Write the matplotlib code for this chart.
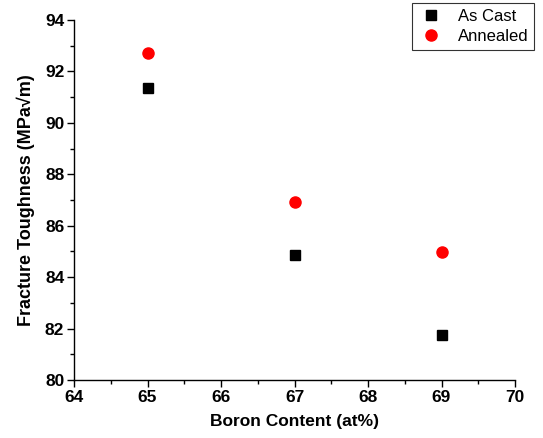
import matplotlib
matplotlib.use('Agg')
import matplotlib.pyplot as plt

# data
boron = [65, 67, 69]
as_cast = [91.35, 84.88, 81.75]
annealed = [92.7, 86.92, 84.97]

plt.rcParams['font.family'] = ['Liberation Sans', 'DejaVu Sans']

fig = plt.figure(figsize=(5.43, 4.38), dpi=100)
ax = fig.add_axes([74/543, 1 - 380/438, (515 - 74)/543, (380 - 20)/438])

ax.plot(boron, as_cast, 's', color='black', markersize=7, label='As Cast')
ax.plot(boron, annealed, 'o', color='red', markersize=8, label='Annealed')

ax.set_xlim(64, 70)
ax.set_ylim(80, 94)
ax.set_xticks(range(64, 71))
ax.set_yticks(range(80, 95, 2))
ax.set_xticks([64.5 + i for i in range(6)], minor=True)
ax.set_yticks(range(81, 94, 2), minor=True)

for s in ['top', 'right']:
    ax.spines[s].set_visible(False)
for s in ['left', 'bottom']:
    ax.spines[s].set_linewidth(1.0)
ax.tick_params(which='major', direction='out', length=5, width=1, labelsize=12.5, pad=2)
ax.tick_params(which='minor', direction='out', length=3, width=1)
for lbl in ax.get_xticklabels() + ax.get_yticklabels():
    lbl.set_fontweight('bold')

ax.set_xlabel('Boron Content (at%)', fontsize=12.5, fontweight='bold', labelpad=7)
ax.set_ylabel('Fracture Toughness (MPa\u221am)', fontsize=13, fontweight='bold', labelpad=7)

leg = fig.legend(loc='upper right', bbox_to_anchor=(534/543, 1 - 3/438), fontsize=12,
                 frameon=True, fancybox=False, shadow=False, handletextpad=0.8,
                 borderpad=0.35, labelspacing=0.3, handlelength=1.6, borderaxespad=0)
leg.get_frame().set_edgecolor('black')
leg.get_frame().set_linewidth(0.8)

fig.savefig('out.png', dpi=100)
